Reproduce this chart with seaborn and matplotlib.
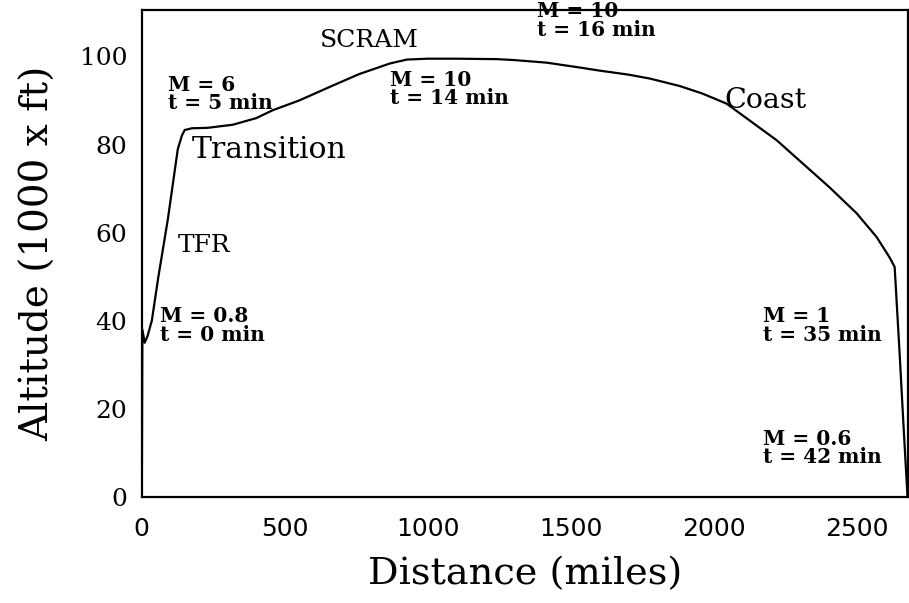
import matplotlib
matplotlib.use("Agg")
import matplotlib.pyplot as plt
import seaborn as sns
import pandas as pd

# ---- data ----
distance_miles = [0, 2, 10, 20, 35, 58, 91, 115, 126, 140, 150, 175, 230, 318,
                  400, 458, 550, 668, 760, 867, 927, 1000, 1100, 1241, 1300,
                  1416, 1531, 1600, 1700, 1776, 1881, 1960, 2045, 2220, 2405,
                  2500, 2570, 2615, 2633, 2650, 2665, 2678]
altitude_kft = [0, 38, 35, 36.5, 40, 50, 63, 74, 79, 82, 83.3, 83.7, 83.8, 84.5,
                86, 87.8, 90, 93.4, 96, 98.4, 99.3, 99.5, 99.5, 99.4, 99.2,
                98.6, 97.5, 96.8, 95.9, 95.0, 93.3, 91.6, 89.3, 81, 70.3,
                64.4, 59, 54.4, 52.2, 33, 15, 0]

phase_labels = ["TFR", "Transition", "SCRAM", "Coast"]
phase_x = [126, 175, 622, 2038]
phase_y = [57, 78.7, 103.6, 90]

state_labels = ["M = 0.8\nt = 0 min", "M = 6\nt = 5 min", "M = 10\nt = 14 min",
                "M = 10\nt = 16 min", "M = 1\nt = 35 min", "M = 0.6\nt = 42 min"]
state_x = [63, 91, 867, 1381, 2171, 2171]
state_y = [43.3, 95.9, 97.0, 112.5, 43.3, 15.4]

x_ticks = [0, 500, 1000, 1500, 2000, 2500]
y_ticks = [0, 20, 40, 60, 80, 100]

df = pd.DataFrame({"Distance": distance_miles, "Altitude": altitude_kft})

sns.set_theme(style="white")
plt.rcParams["font.family"] = ["DejaVu Serif", "DejaVu Sans"]

fig = plt.figure(figsize=(9.09, 6.03), dpi=100)
ax = fig.add_axes([0.156, 0.176, 0.843, 0.807])

sns.lineplot(data=df, x="Distance", y="Altitude", sort=False, estimator=None,
             color="black", linewidth=1.6, ax=ax)

ax.set_xlim(0, 2680)
ax.set_ylim(0, 110.5)
ax.set_xticks(x_ticks)
ax.set_yticks(y_ticks)
ax.set_xticklabels([str(v) for v in x_ticks], fontsize=18, family="DejaVu Sans")
ax.set_yticklabels([str(v) for v in y_ticks], fontsize=18)
ax.tick_params(direction="inout", length=15, width=1.2, colors="black",
               labelcolor="black", pad=3)
ax.tick_params(axis="x", pad=7)
for s in ax.spines.values():
    s.set_visible(True)
    s.set_color("black")
    s.set_linewidth(1.6)

ax.set_xlabel("Distance (miles)", fontsize=27.5, labelpad=11, color="black")
ax.set_ylabel("Altitude (1000 x ft)", fontsize=28, labelpad=16, color="black")

phase_sizes = [18, 21.5, 18, 20.5]
for lab, x, y, fs in zip(phase_labels, phase_x, phase_y, phase_sizes):
    ax.text(x, y, lab, fontsize=fs, ha="left", va="center", color="black")

for lab, x, y in zip(state_labels, state_x, state_y):
    ax.text(x, y, lab, fontsize=14.5, fontweight="bold", ha="left", va="top",
            color="black", linespacing=0.9, clip_on=False)

fig.savefig("out.png", dpi=100)
